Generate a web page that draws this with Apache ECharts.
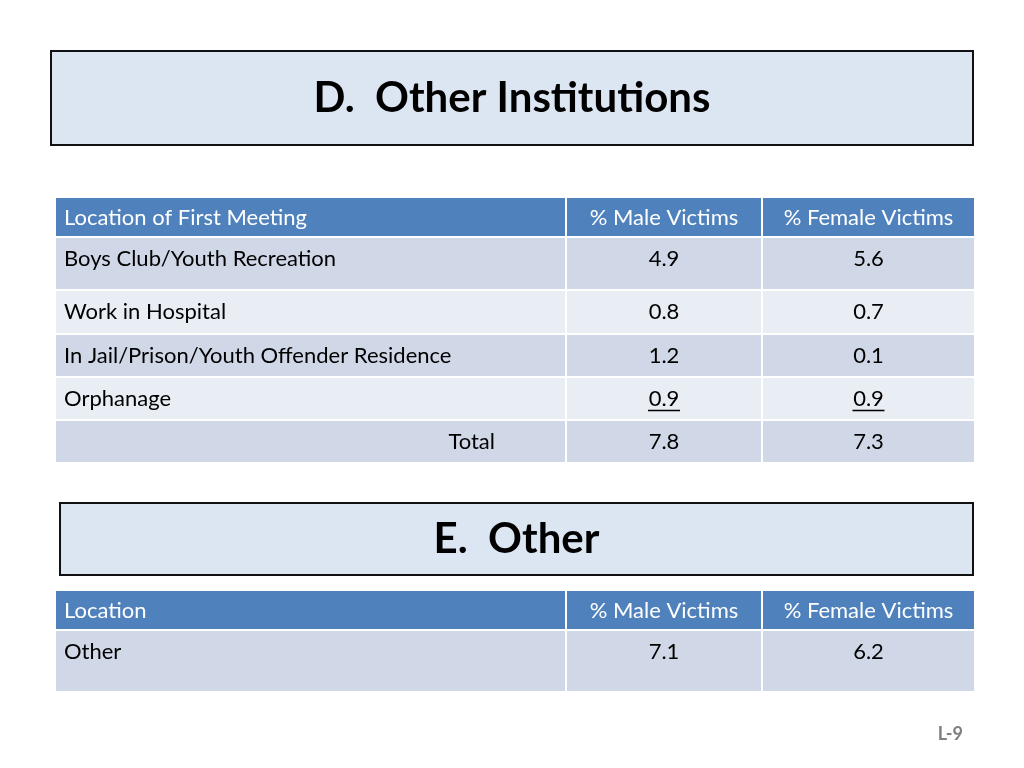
<!DOCTYPE html>
<html><head><meta charset="utf-8">
<script src="https://cdn.jsdelivr.net/npm/echarts@6/dist/echarts.min.js"></script>
<style>html,body{margin:0;background:#fff}#c{width:1024px;height:768px}</style>
</head><body><div id="c"></div>
<script>
// table data
var headers1 = ['Location of First Meeting', '% Male Victims', '% Female Victims'];
var locations1 = ['Boys Club/Youth Recreation', 'Work in Hospital', 'In Jail/Prison/Youth Offender Residence', 'Orphanage', 'Total'];
var male1 = ['4.9', '0.8', '1.2', '0.9', '7.8'];
var female1 = ['5.6', '0.7', '0.1', '0.9', '7.3'];
var headers2 = ['Location', '% Male Victims', '% Female Victims'];
var locations2 = ['Other'];
var male2 = ['7.1'];
var female2 = ['6.2'];

var font = 'Lato, "Open Sans", sans-serif';
var cols = [55, 566, 762, 975];
var g = [];

function titleBox(x, y, w, h, txt) {
  g.push({type: 'rect', shape: {x: x, y: y, width: w, height: h},
    style: {fill: '#dce6f2', stroke: '#111', lineWidth: 2}});
  g.push({type: 'text', x: x + w / 2, y: y + h / 2,
    style: {text: txt, fill: '#000', font: 'bold 42px ' + font, align: 'center', verticalAlign: 'middle'}});
}

function cell(x0, x1, y0, y1, fill) {
  g.push({type: 'rect', shape: {x: x0 + 1, y: y0 + 1, width: x1 - x0 - 2, height: y1 - y0 - 2}, style: {fill: fill}});
}

function table(top, headers, rowTops, locs, m, f, underline) {
  var hb = top + 40;
  for (var c = 0; c < 3; c++) {
    cell(cols[c], cols[c + 1], top, hb, '#4f81bd');
    g.push({type: 'text', x: c === 0 ? cols[0] + 9 : (cols[c] + cols[c + 1]) / 2, y: top + 21,
      style: {text: headers[c], fill: '#fff', font: '22px ' + font, align: c === 0 ? 'left' : 'center', verticalAlign: 'middle'}});
  }
  for (var r = 0; r < locs.length; r++) {
    var y0 = rowTops[r], y1 = rowTops[r + 1];
    var fill = r % 2 === 0 ? '#d0d8e8' : '#e9edf4';
    var ty = r === 0 ? y0 + 22 : (y0 + y1) / 2;
    var vals = [locs[r], m[r], f[r]];
    for (var c2 = 0; c2 < 3; c2++) {
      cell(cols[c2], cols[c2 + 1], y0, y1, fill);
      var isTotal = locs[r] === 'Total' && c2 === 0;
      var tx = c2 === 0 ? (isTotal ? 495 : cols[0] + 9) : (cols[c2] + cols[c2 + 1]) / 2;
      g.push({type: 'text', x: tx, y: ty,
        style: {text: vals[c2], fill: '#000', font: '22px ' + font, align: c2 === 0 ? (isTotal ? 'right' : 'left') : 'center', verticalAlign: 'middle'}});
      if (underline && r === underline && c2 > 0) {
        g.push({type: 'line', shape: {x1: tx - 16, y1: ty + 12, x2: tx + 16, y2: ty + 12}, style: {stroke: '#000', lineWidth: 1.5}});
      }
    }
  }
}

titleBox(51, 51, 922, 94, 'D.  Other Institutions');
table(197, headers1, [237, 290, 334, 377, 420, 463], locations1, male1, female1, 3);
titleBox(60, 503, 913, 72, 'E.  Other');
table(590, headers2, [630, 692], locations2, male2, female2, 0);
g.push({type: 'text', x: 963, y: 734, style: {text: 'L-9', fill: '#7f7f7f', font: 'bold 18px ' + font, align: 'right', verticalAlign: 'middle'}});

var chart = echarts.init(document.getElementById('c'));
chart.setOption({backgroundColor: '#fff', graphic: {elements: g}});
</script></body></html>
